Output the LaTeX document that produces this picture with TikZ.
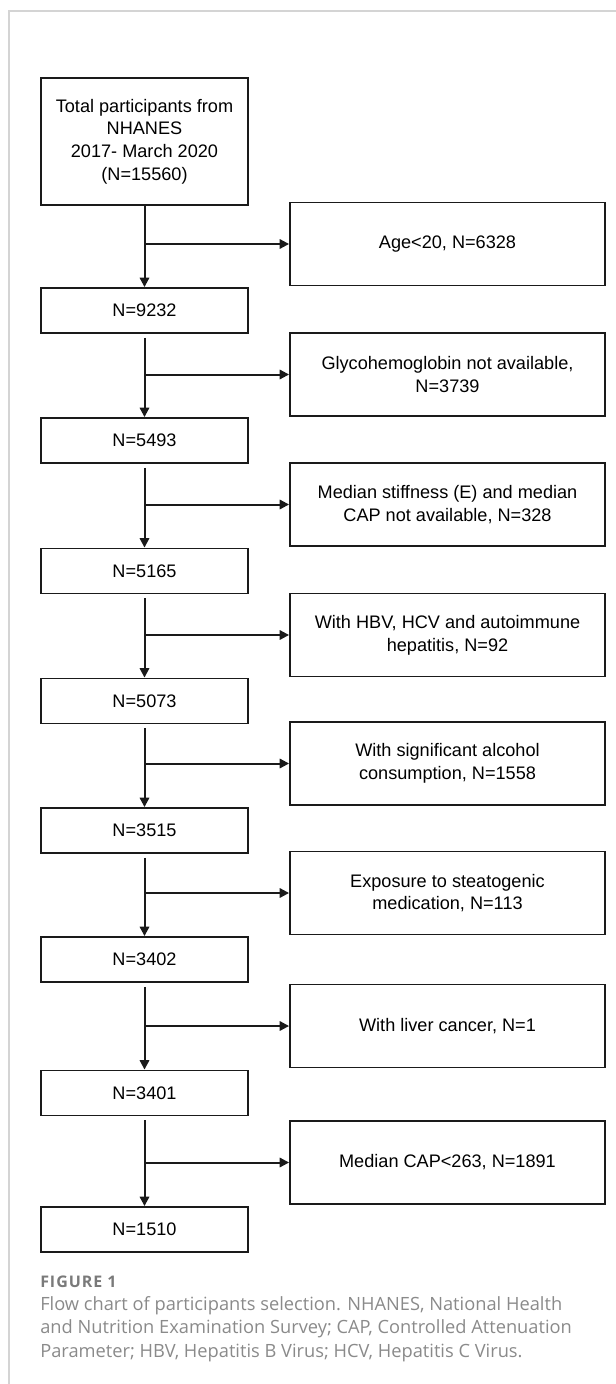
\documentclass[tikz,border=0pt]{standalone}
\usepackage{fontspec}
\setmainfont{Liberation Sans}
\newfontfamily\capfont{Open Sans}
\newfontfamily\figfont[LetterSpace=6]{Open Sans}
\usetikzlibrary{arrows.meta}
\definecolor{capgray}{HTML}{8A8A8A}
\definecolor{figgray}{HTML}{7A7A7A}
\definecolor{framegray}{HTML}{D4D4D4}
\definecolor{boxline}{HTML}{1A1A1A}
\tikzset{
  px/.style={x=0.75pt,y=-0.75pt},
  leftbox/.style={draw=boxline,line width=1.4pt,minimum width=155.25pt,minimum height=33.75pt,inner sep=0pt,align=center,font=\fontsize{13.6}{17}\selectfont},
  rightbox/.style={draw=boxline,line width=1.4pt,minimum width=236.25pt,minimum height=62.25pt,inner sep=0pt,align=center,font=\fontsize{13.6}{17}\selectfont},
  arr/.style={draw=boxline,line width=1.5pt,-{Triangle[length=7pt,width=7pt]}},
  captext/.style={anchor=west,inner sep=0pt,text=capgray,font=\capfont\fontsize{13.7}{17}\selectfont},
}
\begin{document}
\begin{tikzpicture}[px]
\useasboundingbox (0,0) rectangle (616,1384);
\draw[framegray,line width=0.8pt] (9,1384) -- (9,11) -- (616,11);
% left column
\node[leftbox,minimum height=95.25pt] (top) at (144.5,141.5) {Total participants from\\NHANES\\2017- March 2020\\(N=15560)};
\node[leftbox] (l1) at (144.5,310.5) {N=9232};
\node[leftbox] (l2) at (144.5,440.5) {N=5493};
\node[leftbox] (l3) at (144.5,571) {N=5165};
\node[leftbox] (l4) at (144.5,701) {N=5073};
\node[leftbox] (l5) at (144.5,830.5) {N=3515};
\node[leftbox] (l6) at (144.5,959.5) {N=3402};
\node[leftbox] (l7) at (144.5,1093) {N=3401};
\node[leftbox] (l8) at (144.5,1229.5) {N=1510};
% right column
\node[rightbox] (r1) at (447.5,244) {Age<20, N=6328};
\node[rightbox] (r2) at (447.5,374.5) {Glycohemoglobin not available,\\N=3739};
\node[rightbox] (r3) at (447.5,504.5) {Median stiffness (E) and median\\CAP not available, N=328};
\node[rightbox] (r4) at (447.5,635) {With HBV, HCV and autoimmune\\hepatitis, N=92};
\node[rightbox] (r5) at (447.5,763.5) {With significant alcohol\\consumption, N=1558};
\node[rightbox] (r6) at (447.5,893) {Exposure to steatogenic\\medication, N=113};
\node[rightbox] (r7) at (447.5,1026) {With liver cancer, N=1};
\node[rightbox] (r8) at (447.5,1162.5) {Median CAP<263, N=1891};
% connectors
\draw[arr] (top.south) -- (l1.north);
\draw[arr] (top.south |- r1.west) -- (r1.west);
\foreach \a/\b/\r in {l1/l2/r2,l2/l3/r3,l3/l4/r4,l4/l5/r5,l5/l6/r6,l6/l7/r7,l7/l8/r8}{
  \draw[arr,shorten <=3pt] (\a.south) -- (\b.north);
  \draw[arr] (\a.south |- \r.west) -- (\r.west);
}
% caption
\node[anchor=west,inner sep=0pt,text=figgray,font=\figfont\bfseries\fontsize{12}{14}\selectfont] (fig) at (40,1282) {FIGURE 1};
\node[captext] (c1) at (40,1306) {Flow chart of participants selection. NHANES, National Health};
\node[captext] (c2) at (40,1329) {and Nutrition Examination Survey; CAP, Controlled Attenuation};
\node[captext] (c3) at (40,1353) {Parameter; HBV, Hepatitis B Virus; HCV, Hepatitis C Virus.};
\end{tikzpicture}
\end{document}
